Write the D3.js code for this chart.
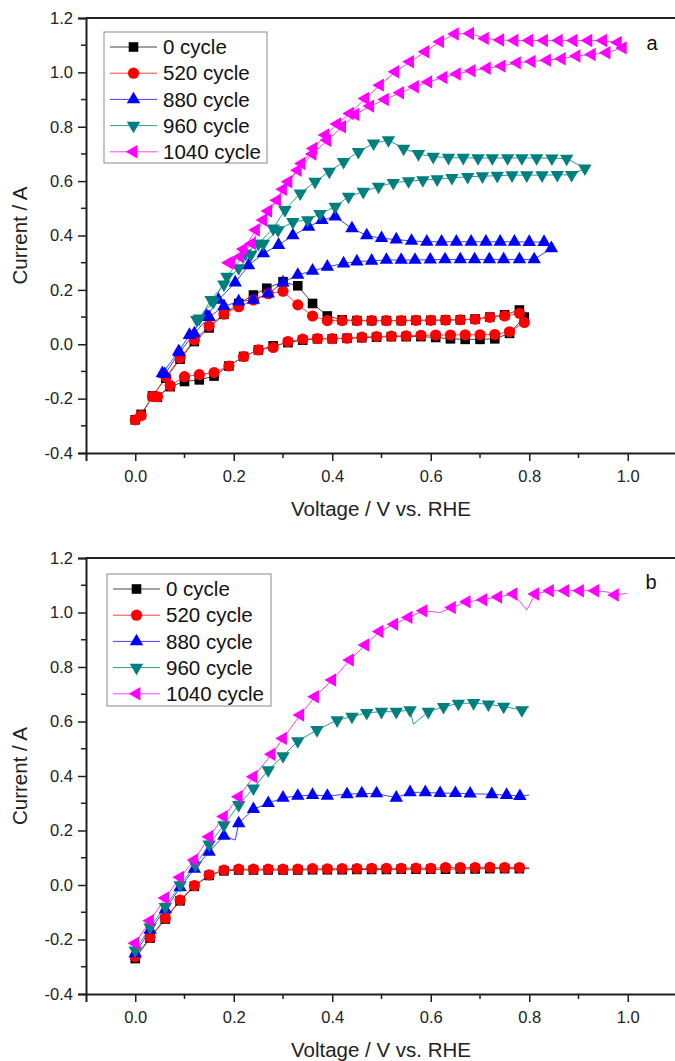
<!DOCTYPE html>
<html>
<head>
<meta charset="utf-8">
<script src="https://cdn.jsdelivr.net/npm/d3@7/dist/d3.min.js"></script>
<style>
  html, body { margin: 0; padding: 0; background: #fff; }
  svg { display: block; font-family: "Liberation Sans", Arial, sans-serif; }
</style>
</head>
<body>
<svg id="chart" width="675" height="1061"></svg>
<script>
"use strict";

// series names, in legend order
var seriesNames = ["0 cycle", "520 cycle", "880 cycle", "960 cycle", "1040 cycle"];

// axis ticks
var yTicks = [-0.4, -0.2, 0.0, 0.2, 0.4, 0.6, 0.8, 1.0, 1.2];
var yMinorTicks = [-0.3, -0.1, 0.1, 0.3, 0.5, 0.7, 0.9, 1.1];
var xTicks = [0.0, 0.2, 0.4, 0.6, 0.8, 1.0];
var xMinorTicks = [0.1, 0.3, 0.5, 0.7, 0.9];

// panel a: cyclic sweeps, [voltage, current]
var aCycle0 = [
    [0, -0.278], [0.012, -0.258], [0.035, -0.19], [0.062, -0.125], [0.091, -0.055],
    [0.12, 0.01], [0.15, 0.06], [0.18, 0.11], [0.21, 0.15], [0.24, 0.181],
    [0.267, 0.206], [0.30, 0.23], [0.33, 0.215], [0.36, 0.15], [0.39, 0.104],
    [0.42, 0.09], [0.45, 0.087], [0.48, 0.087], [0.51, 0.087], [0.54, 0.087],
    [0.57, 0.088], [0.60, 0.088], [0.63, 0.089], [0.66, 0.09], [0.69, 0.093],
    [0.72, 0.10], [0.75, 0.108], [0.78, 0.126], [0.79, 0.10],
    [0.76, 0.04], [0.73, 0.02], [0.70, 0.018], [0.67, 0.018], [0.64, 0.02],
    [0.61, 0.025], [0.58, 0.028], [0.55, 0.028], [0.52, 0.028], [0.49, 0.026],
    [0.46, 0.024], [0.43, 0.022], [0.40, 0.02], [0.37, 0.02], [0.34, 0.015],
    [0.31, 0.006], [0.28, -0.006], [0.25, -0.021], [0.22, -0.045], [0.19, -0.08],
    [0.16, -0.117], [0.13, -0.131], [0.10, -0.137], [0.071, -0.156], [0.045, -0.195]
];
var aCycle520 = [
    [0, -0.278], [0.012, -0.262], [0.035, -0.192], [0.062, -0.12], [0.091, -0.051],
    [0.12, 0.016], [0.15, 0.067], [0.18, 0.111], [0.21, 0.138], [0.24, 0.163],
    [0.27, 0.186], [0.30, 0.195], [0.33, 0.145], [0.36, 0.104], [0.39, 0.087],
    [0.42, 0.087], [0.45, 0.087], [0.48, 0.087], [0.51, 0.087], [0.54, 0.087],
    [0.57, 0.088], [0.60, 0.088], [0.63, 0.089], [0.66, 0.09], [0.69, 0.092],
    [0.72, 0.099], [0.75, 0.104], [0.78, 0.114], [0.79, 0.08],
    [0.76, 0.046], [0.73, 0.036], [0.70, 0.035], [0.67, 0.035], [0.64, 0.034],
    [0.61, 0.034], [0.58, 0.033], [0.55, 0.031], [0.52, 0.03], [0.49, 0.028],
    [0.46, 0.026], [0.43, 0.022], [0.40, 0.021], [0.37, 0.021], [0.34, 0.019],
    [0.31, 0.01], [0.28, -0.012], [0.25, -0.021], [0.22, -0.045], [0.19, -0.08],
    [0.16, -0.104], [0.13, -0.112], [0.10, -0.119], [0.071, -0.152], [0.045, -0.193]
];
var aCycle880 = [
    [0.055, -0.107], [0.088, -0.027], [0.11, 0.034], [0.145, 0.104], [0.169, 0.163],
    [0.203, 0.227], [0.23, 0.29], [0.26, 0.334], [0.291, 0.365], [0.32, 0.40],
    [0.352, 0.432], [0.379, 0.457], [0.406, 0.469], [0.44, 0.426], [0.47, 0.40],
    [0.50, 0.39], [0.53, 0.385], [0.561, 0.38], [0.592, 0.377], [0.622, 0.377],
    [0.652, 0.377], [0.682, 0.377], [0.712, 0.377], [0.741, 0.377], [0.77, 0.377],
    [0.80, 0.376], [0.83, 0.376], [0.845, 0.353],
    [0.81, 0.312], [0.78, 0.312], [0.748, 0.312], [0.719, 0.312], [0.689, 0.312],
    [0.66, 0.312], [0.629, 0.312], [0.599, 0.311], [0.568, 0.31], [0.54, 0.31],
    [0.51, 0.31], [0.48, 0.307], [0.45, 0.304], [0.423, 0.297], [0.39, 0.285],
    [0.36, 0.27], [0.33, 0.255], [0.30, 0.227], [0.27, 0.186], [0.24, 0.163],
    [0.21, 0.157], [0.18, 0.14], [0.15, 0.10], [0.12, 0.04], [0.09, -0.03], [0.06, -0.11]
];
var aCycle960 = [
    [0.125, 0.09], [0.159, 0.157], [0.186, 0.249], [0.223, 0.334], [0.25, 0.37],
    [0.28, 0.426], [0.304, 0.494], [0.335, 0.555], [0.365, 0.598], [0.394, 0.635],
    [0.423, 0.671], [0.453, 0.708], [0.484, 0.739], [0.514, 0.751], [0.545, 0.72],
    [0.575, 0.70], [0.605, 0.69], [0.636, 0.686], [0.666, 0.686], [0.696, 0.685],
    [0.725, 0.685], [0.756, 0.685], [0.785, 0.685], [0.815, 0.685], [0.846, 0.684],
    [0.876, 0.683], [0.913, 0.647],
    [0.886, 0.623], [0.857, 0.623], [0.826, 0.622], [0.795, 0.622], [0.765, 0.622],
    [0.735, 0.62], [0.705, 0.618], [0.675, 0.616], [0.643, 0.612], [0.613, 0.607],
    [0.584, 0.604], [0.555, 0.60], [0.524, 0.594], [0.494, 0.58], [0.463, 0.561],
    [0.433, 0.543], [0.406, 0.506], [0.375, 0.48], [0.35, 0.457], [0.32, 0.45],
    [0.29, 0.42], [0.26, 0.37], [0.235, 0.33], [0.21, 0.28], [0.18, 0.22],
    [0.154, 0.163], [0.13, 0.095]
];
var aCycle1040 = [
    [0.19, 0.30], [0.213, 0.322], [0.237, 0.371], [0.26, 0.457], [0.288, 0.53],
    [0.311, 0.598], [0.338, 0.665], [0.362, 0.72], [0.386, 0.77], [0.41, 0.81],
    [0.436, 0.849], [0.467, 0.904], [0.497, 0.953], [0.528, 1.002], [0.558, 1.039],
    [0.589, 1.076], [0.619, 1.113], [0.649, 1.141], [0.68, 1.143], [0.71, 1.125],
    [0.741, 1.119], [0.77, 1.117], [0.80, 1.117], [0.83, 1.117], [0.86, 1.117],
    [0.89, 1.117], [0.92, 1.117], [0.95, 1.117], [0.98, 1.11], [0.99, 1.09],
    [0.957, 1.072], [0.927, 1.066], [0.896, 1.06], [0.866, 1.05], [0.836, 1.045],
    [0.805, 1.04], [0.775, 1.035], [0.744, 1.023], [0.714, 1.015], [0.683, 1.006],
    [0.653, 0.994], [0.626, 0.981], [0.595, 0.965], [0.568, 0.947], [0.538, 0.925],
    [0.507, 0.90], [0.477, 0.876], [0.447, 0.845], [0.42, 0.80], [0.39, 0.75],
    [0.36, 0.70], [0.33, 0.64], [0.30, 0.57], [0.27, 0.49], [0.245, 0.42],
    [0.22, 0.35], [0.195, 0.30]
];

// panel b: single sweeps; a third value of 0 marks a point on the line with no symbol
var bCycle0 = [
    [0, -0.27], [0.03, -0.195], [0.061, -0.125], [0.091, -0.058], [0.12, -0.005],
    [0.15, 0.035], [0.18, 0.052], [0.21, 0.055], [0.24, 0.055], [0.27, 0.055],
    [0.30, 0.055], [0.33, 0.055], [0.36, 0.056], [0.39, 0.056], [0.42, 0.056],
    [0.45, 0.057], [0.48, 0.057], [0.51, 0.057], [0.54, 0.058], [0.57, 0.058],
    [0.60, 0.058], [0.63, 0.058], [0.66, 0.059], [0.69, 0.059], [0.72, 0.06],
    [0.75, 0.06], [0.78, 0.06], [0.80, 0.06, 0]
];
var bCycle520 = [
    [0, -0.263], [0.03, -0.192], [0.061, -0.122], [0.091, -0.055], [0.12, -0.002],
    [0.15, 0.037], [0.18, 0.055], [0.21, 0.058], [0.24, 0.058], [0.27, 0.058],
    [0.30, 0.058], [0.33, 0.058], [0.36, 0.06], [0.39, 0.059], [0.42, 0.06],
    [0.45, 0.06], [0.48, 0.061], [0.51, 0.061], [0.54, 0.061], [0.57, 0.062],
    [0.60, 0.061], [0.63, 0.064], [0.66, 0.064], [0.69, 0.064], [0.72, 0.065],
    [0.75, 0.064], [0.78, 0.064], [0.80, 0.063, 0]
];
var bCycle880 = [
    [0, -0.251], [0.03, -0.165], [0.061, -0.09], [0.091, -0.009], [0.12, 0.059],
    [0.15, 0.122], [0.18, 0.18], [0.203, 0.165, 0], [0.21, 0.226], [0.24, 0.278],
    [0.27, 0.30], [0.30, 0.32], [0.33, 0.327], [0.36, 0.33], [0.39, 0.327],
    [0.43, 0.333], [0.46, 0.336], [0.49, 0.336], [0.53, 0.32], [0.558, 0.34],
    [0.589, 0.34], [0.619, 0.337], [0.65, 0.337], [0.68, 0.335], [0.724, 0.333],
    [0.754, 0.33], [0.781, 0.326], [0.80, 0.33, 0]
];
var bCycle960 = [
    [0, -0.24], [0.03, -0.155], [0.061, -0.08], [0.091, 0.0], [0.122, 0.073],
    [0.15, 0.149], [0.18, 0.22], [0.21, 0.294], [0.24, 0.355], [0.27, 0.422],
    [0.30, 0.473], [0.33, 0.528], [0.369, 0.569], [0.41, 0.605], [0.44, 0.618],
    [0.47, 0.632], [0.50, 0.636], [0.53, 0.636], [0.558, 0.642], [0.565, 0.59, 0],
    [0.595, 0.636], [0.626, 0.654], [0.656, 0.666], [0.687, 0.668], [0.717, 0.663],
    [0.748, 0.655], [0.785, 0.642], [0.80, 0.655, 0]
];
var bCycle1040 = [
    [0, -0.214], [0.03, -0.131], [0.061, -0.048], [0.091, 0.028], [0.12, 0.092],
    [0.15, 0.177], [0.18, 0.251], [0.21, 0.324], [0.24, 0.397], [0.277, 0.48],
    [0.30, 0.538], [0.335, 0.624], [0.365, 0.691], [0.40, 0.752], [0.436, 0.826],
    [0.467, 0.881], [0.496, 0.93], [0.526, 0.957], [0.555, 0.982], [0.585, 1.006],
    [0.619, 1.0, 0], [0.643, 1.018], [0.673, 1.039], [0.707, 1.047], [0.737, 1.057],
    [0.768, 1.068], [0.795, 1.009, 0], [0.812, 1.068], [0.842, 1.08], [0.873, 1.08],
    [0.903, 1.08], [0.934, 1.08], [0.96, 1.075, 0], [0.974, 1.064], [0.998, 1.07, 0]
];

var markerColors = ["#000000", "#ff0000", "#0000ff", "#007f7f", "#ff00ff"];
var lineColors = ["#444444", "#ff4040", "#4040ff", "#2a9a9a", "#ff40ff"];
// square, circle, up triangle, down triangle, left triangle
var markerShapes = [
    {type: d3.symbolSquare, size: 92, rot: 0},
    {type: d3.symbolCircle, size: 98, rot: 0},
    {type: d3.symbolTriangle, size: 78, rot: 0},
    {type: d3.symbolTriangle, size: 78, rot: 180},
    {type: d3.symbolTriangle, size: 78, rot: -90}
];

var svg = d3.select("#chart");
var axisColor = "#1e1e1e";

function drawPanel(cfg) {
    var x = d3.scaleLinear().domain([-0.1, 1.1]).range([86, 677]);
    var y = d3.scaleLinear().domain([-0.4, 1.2]).range([cfg.bottom, cfg.top]);
    var g = svg.append("g");

    // series: thin line first, then symbols
    cfg.series.forEach(function(data, i) {
        var line = d3.line()
            .x(function(d) { return x(d[0]); })
            .y(function(d) { return y(d[1]); });
        g.append("path")
            .datum(data)
            .attr("d", line)
            .attr("fill", "none")
            .attr("stroke", lineColors[i])
            .attr("stroke-width", 1);
    });
    cfg.series.forEach(function(data, i) {
        var shape = markerShapes[i];
        var sym = d3.symbol().type(shape.type).size(shape.size);
        g.selectAll(null)
            .data(data.filter(function(d) { return d[2] !== 0; }))
            .enter().append("path")
            .attr("d", sym)
            .attr("transform", function(d) {
                return "translate(" + x(d[0]) + "," + y(d[1]) + ") rotate(" + shape.rot + ")";
            })
            .attr("fill", markerColors[i]);
    });

    // frame
    g.append("line")
        .attr("x1", 86).attr("x2", 677)
        .attr("y1", cfg.top).attr("y2", cfg.top)
        .attr("stroke", axisColor).attr("stroke-width", 2);

    var fmt = function(d) { return d.toFixed(1); };

    var yAxis = g.append("g")
        .attr("transform", "translate(86,0)")
        .call(d3.axisLeft(y).tickValues(yTicks).tickSize(8).tickPadding(5).tickFormat(fmt));
    yAxis.selectAll(null)
        .data(yMinorTicks)
        .enter().append("line")
        .attr("x1", 0).attr("x2", -5)
        .attr("y1", function(d) { return y(d); })
        .attr("y2", function(d) { return y(d); })
        .attr("stroke", axisColor).attr("stroke-width", 1.5);

    var xAxis = g.append("g")
        .attr("transform", "translate(0," + cfg.bottom + ")")
        .call(d3.axisBottom(x).tickValues(xTicks).tickSize(8).tickPadding(9).tickFormat(fmt));
    xAxis.selectAll(null)
        .data(xMinorTicks)
        .enter().append("line")
        .attr("y1", 0).attr("y2", 5)
        .attr("x1", function(d) { return x(d); })
        .attr("x2", function(d) { return x(d); })
        .attr("stroke", axisColor).attr("stroke-width", 1.5);

    [xAxis, yAxis].forEach(function(ax) {
        ax.select(".domain").attr("stroke", axisColor).attr("stroke-width", 2);
        ax.selectAll(".tick line").attr("stroke", axisColor).attr("stroke-width", 1.5);
        ax.selectAll(".tick text")
            .attr("fill", "#222")
            .style("font-size", "16.5px")
            .style("font-family", "'Liberation Sans', Arial, sans-serif");
    });

    // axis titles
    g.append("text")
        .attr("x", 381).attr("y", cfg.bottom + 63)
        .attr("text-anchor", "middle")
        .attr("fill", "#222")
        .style("font-size", "20.5px")
        .text("Voltage / V vs. RHE");
    g.append("text")
        .attr("transform", "translate(27," + ((cfg.top + cfg.bottom) / 2) + ") rotate(-90)")
        .attr("text-anchor", "middle")
        .attr("fill", "#222")
        .style("font-size", "20.5px")
        .text("Current / A");

    // panel letter
    g.append("text")
        .attr("x", cfg.letterX).attr("y", cfg.letterY)
        .attr("text-anchor", "middle")
        .attr("dy", "0.35em")
        .attr("fill", "#111")
        .style("font-size", "20px")
        .text(cfg.letter);

    // legend
    var lg = g.append("g").attr("transform", "translate(" + cfg.legX + "," + cfg.legY + ")");
    lg.append("rect")
        .attr("x", 0).attr("y", 0)
        .attr("width", cfg.legW).attr("height", cfg.legH)
        .attr("fill", "#fff")
        .attr("stroke", "#8a8a8a").attr("stroke-width", 1);
    seriesNames.forEach(function(name, i) {
        var ry = 15 + i * 26.2;
        lg.append("line")
            .attr("x1", 6).attr("x2", 53)
            .attr("y1", ry).attr("y2", ry)
            .attr("stroke", lineColors[i]).attr("stroke-width", 1);
        var shape = markerShapes[i];
        lg.append("path")
            .attr("d", d3.symbol().type(shape.type).size(shape.size)())
            .attr("transform", "translate(29.5," + ry + ") rotate(" + shape.rot + ")")
            .attr("fill", markerColors[i]);
        lg.append("text")
            .attr("x", 59).attr("y", ry)
            .attr("dy", "0.35em")
            .attr("fill", "#111")
            .style("font-size", "20.5px")
            .text(name);
    });
}

drawPanel({
    top: 18, bottom: 453, letter: "a", letterX: 652, letterY: 43,
    legX: 104, legY: 32, legW: 163, legH: 131,
    series: [aCycle0, aCycle520, aCycle880, aCycle960, aCycle1040]
});
drawPanel({
    top: 558, bottom: 994, letter: "b", letterX: 651, letterY: 582,
    legX: 107, legY: 574, legW: 164, legH: 132,
    series: [bCycle0, bCycle520, bCycle880, bCycle960, bCycle1040]
});
</script>
</body>
</html>
